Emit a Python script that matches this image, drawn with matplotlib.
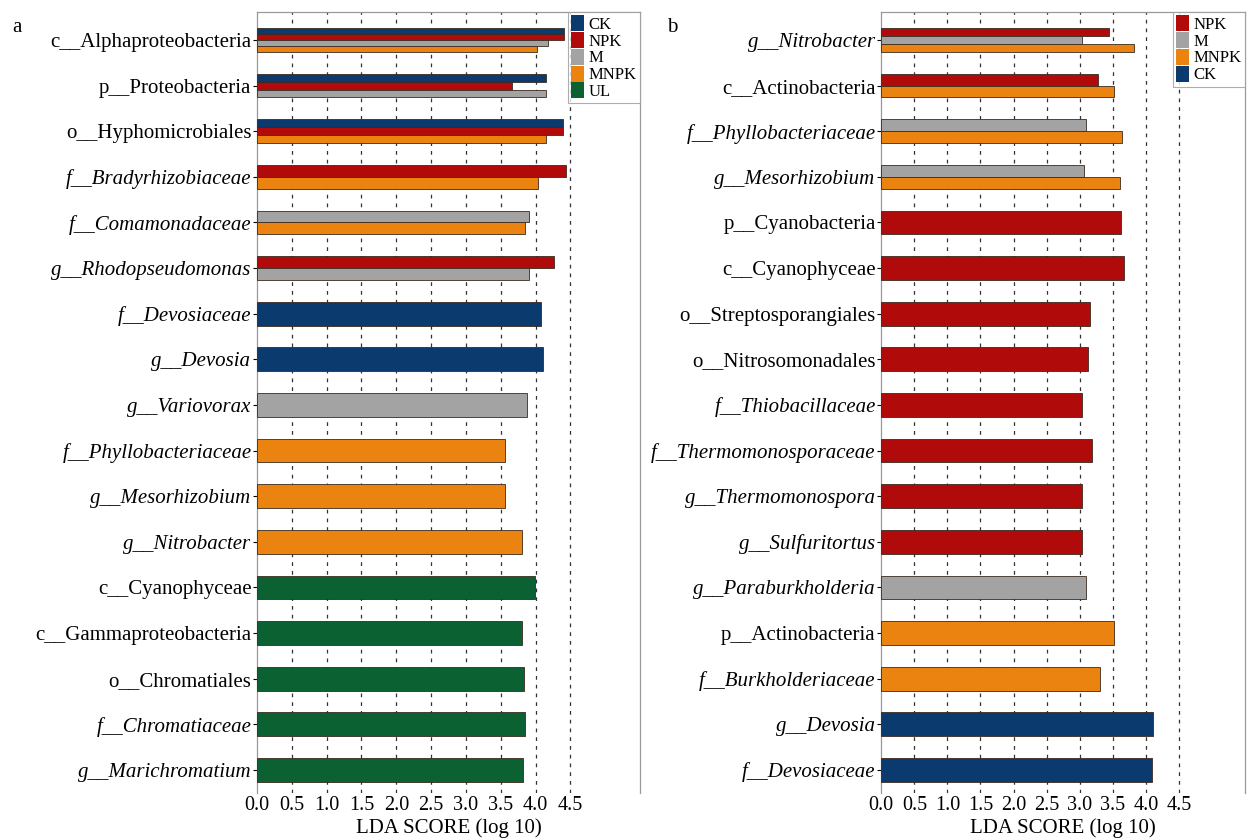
import numpy as np
from matplotlib import pyplot as plt
from matplotlib.patches import Patch

plt.rcParams['font.family'] = ['Liberation Serif', 'DejaVu Serif']

colors = {'CK': '#0b3a6e', 'NPK': '#b00a0a', 'M': '#a3a3a3',
          'MNPK': '#ea830f', 'UL': '#0b6132'}

# panel a
labels_a = ['c__Alphaproteobacteria', 'p__Proteobacteria', 'o__Hyphomicrobiales',
            'f__Bradyrhizobiaceae', 'f__Comamonadaceae', 'g__Rhodopseudomonas',
            'f__Devosiaceae', 'g__Devosia', 'g__Variovorax', 'f__Phyllobacteriaceae',
            'g__Mesorhizobium', 'g__Nitrobacter', 'c__Cyanophyceae',
            'c__Gammaproteobacteria', 'o__Chromatiales', 'f__Chromatiaceae',
            'g__Marichromatium']
groups_a = [['CK', 'NPK', 'M', 'MNPK'], ['CK', 'NPK', 'M'], ['CK', 'NPK', 'MNPK'],
            ['NPK', 'MNPK'], ['M', 'MNPK'], ['NPK', 'M'],
            ['CK'], ['CK'], ['M'], ['MNPK'], ['MNPK'], ['MNPK'],
            ['UL'], ['UL'], ['UL'], ['UL'], ['UL']]
scores_a = [[4.41, 4.41, 4.18, 4.02], [4.15, 3.66, 4.15], [4.40, 4.39, 4.15],
            [4.44, 4.04], [3.91, 3.85], [4.27, 3.90],
            [4.08], [4.11], [3.88], [3.56], [3.56], [3.81],
            [3.99], [3.81], [3.84], [3.85], [3.82]]
legend_a = ['CK', 'NPK', 'M', 'MNPK', 'UL']

# panel b
labels_b = ['g__Nitrobacter', 'c__Actinobacteria', 'f__Phyllobacteriaceae',
            'g__Mesorhizobium', 'p__Cyanobacteria', 'c__Cyanophyceae',
            'o__Streptosporangiales', 'o__Nitrosomonadales', 'f__Thiobacillaceae',
            'f__Thermomonosporaceae', 'g__Thermomonospora', 'g__Sulfuritortus',
            'g__Paraburkholderia', 'p__Actinobacteria', 'f__Burkholderiaceae',
            'g__Devosia', 'f__Devosiaceae']
groups_b = [['NPK', 'M', 'MNPK'], ['NPK', 'MNPK'], ['M', 'MNPK'], ['M', 'MNPK'],
            ['NPK'], ['NPK'], ['NPK'], ['NPK'], ['NPK'], ['NPK'], ['NPK'], ['NPK'],
            ['M'], ['MNPK'], ['MNPK'], ['CK'], ['CK']]
scores_b = [[3.45, 3.04, 3.82], [3.27, 3.52], [3.10, 3.64], [3.07, 3.61],
            [3.63], [3.67], [3.16], [3.12], [3.03], [3.19], [3.03], [3.03],
            [3.09], [3.52], [3.30], [4.11], [4.10]]
legend_b = ['NPK', 'M', 'MNPK', 'CK']

xticks = np.arange(0, 5.0, 0.5)


def draw_panel(ax, labels, groups, scores, legend_order):
    total = 0.52
    for i, (grp, vals) in enumerate(zip(groups, scores)):
        n = len(grp)
        h = total / n
        for j, (g, v) in enumerate(zip(grp, vals)):
            y = i - total / 2 + h * (j + 0.5)
            ax.barh(y, v, height=h, color=colors[g], edgecolor='#3a2a20',
                    linewidth=0.6, zorder=3)
    ax.set_yticks(range(len(labels)))
    ax.set_yticklabels(labels, fontsize=15)
    for lbl, txt in zip(ax.get_yticklabels(), labels):
        if txt[0] in 'fg':
            lbl.set_fontstyle('italic')
    ax.set_ylim(len(labels) - 0.5, -0.62)
    ax.set_xlim(0, 5.5)
    ax.set_xticks(xticks)
    ax.set_xticklabels(['%.1f' % t for t in xticks], fontsize=14.5)
    ax.tick_params(axis='x', length=0, pad=2)
    ax.tick_params(axis='y', length=3, width=0.8, pad=1)
    for x in xticks[1:]:
        ax.axvline(x, color='#333333', linestyle=(0, (3, 4)), linewidth=0.9, zorder=1)
    for s in ['top', 'right', 'left']:
        ax.spines[s].set_color('#999999')
        ax.spines[s].set_linewidth(0.9)
    ax.spines['bottom'].set_visible(False)
    ax.set_xlabel('LDA SCORE (log 10)', fontsize=15, labelpad=3)
    handles = [Patch(facecolor=colors[g], edgecolor='none', label=g) for g in legend_order]
    leg = ax.legend(handles=handles, loc='upper right', fontsize=12, frameon=True,
                    fancybox=False, edgecolor='#999999', labelspacing=-0.05,
                    handlelength=0.8, handleheight=1.1, handletextpad=0.25,
                    borderpad=0.2, borderaxespad=0.0)
    leg.get_frame().set_linewidth(0.8)
    leg.set_zorder(5)


fig = plt.figure(figsize=(12.5, 8.38), dpi=100)
ax_a = fig.add_axes([0.2056, 0.054, 0.3064, 0.932])
ax_b = fig.add_axes([0.705, 0.054, 0.291, 0.932])

draw_panel(ax_a, labels_a, groups_a, scores_a, legend_a)
draw_panel(ax_b, labels_b, groups_b, scores_b, legend_b)

fig.text(0.010, 0.962, 'a', fontsize=15)
fig.text(0.534, 0.962, 'b', fontsize=15)

fig.savefig('out.png', dpi=100)
